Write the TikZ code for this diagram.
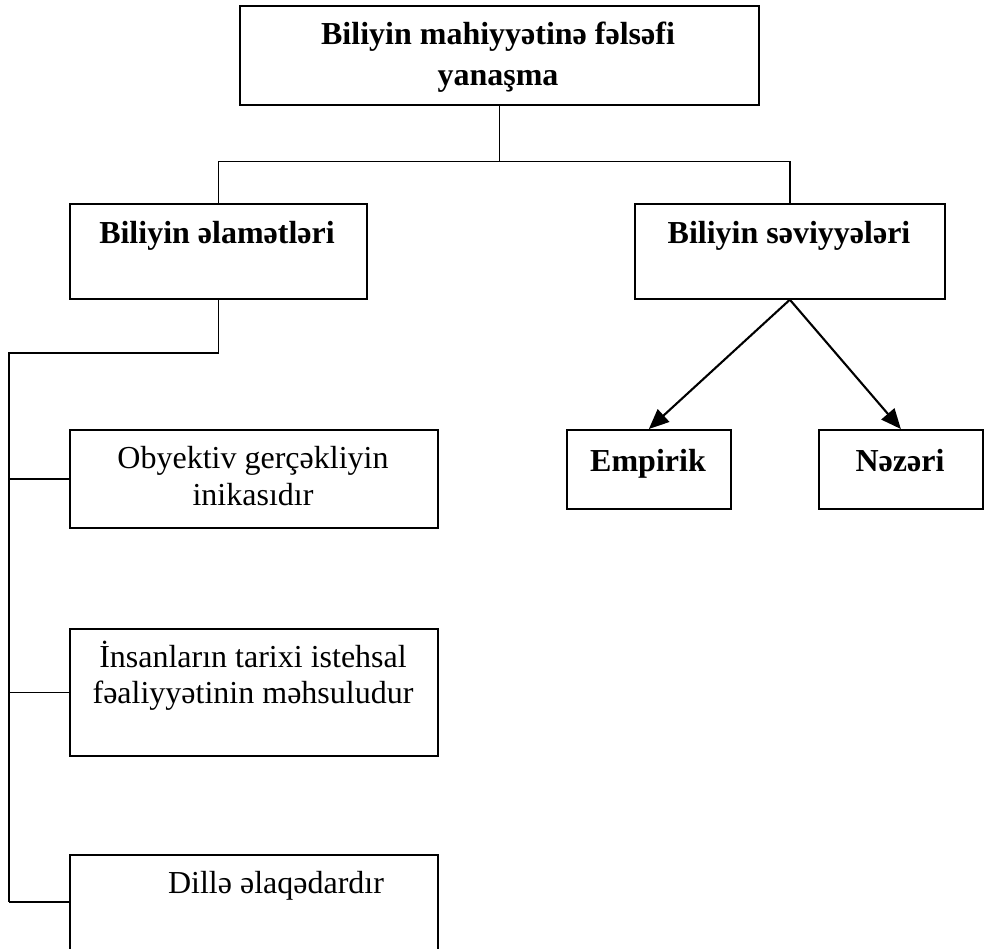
\documentclass[tikz,border=0pt]{standalone}
\usepackage{fontspec}
\setmainfont{Liberation Serif}
\usetikzlibrary{arrows.meta}
\begin{document}
\begin{tikzpicture}[x=1pt,y=-1pt,
  box/.style={draw,line width=1.7pt,inner sep=0pt,anchor=north west},
  lbl/.style={font=\fontsize{32}{41}\selectfont, anchor=base, inner sep=0pt},
  blbl/.style={font=\fontsize{32}{41}\selectfont\bfseries, anchor=base, inner sep=0pt},
  conn/.style={line width=1.6pt},
  arr/.style={line width=2.1pt,-{Triangle[length=20pt,width=17pt]}}]
\useasboundingbox (0,0) rectangle (984,949);
% boxes
\node[box,minimum width=519pt,minimum height=99pt] (top) at (239,5) {};
\node[box,minimum width=297pt,minimum height=95pt] (alam) at (69,203) {};
\node[box,minimum width=310pt,minimum height=95pt] (sev) at (634,203) {};
\node[box,minimum width=164pt,minimum height=79pt] (emp) at (566,429) {};
\node[box,minimum width=164pt,minimum height=79pt] (naz) at (818,429) {};
\node[box,minimum width=368pt,minimum height=98pt] (b1) at (69,429) {};
\node[box,minimum width=368pt,minimum height=127pt] (b2) at (69,628) {};
\node[box,minimum width=368pt,minimum height=130pt] (b3) at (69,854) {};
% texts
\node[blbl] (t1a) at (498,45) {Biliyin mahiyyətinə fəlsəfi};
\node[blbl] (t1b) at (498,86) {yanaşma};
\node[blbl] (t2) at (217,244) {Biliyin əlamətləri};
\node[blbl] (t3) at (789,244) {Biliyin səviyyələri};
\node[blbl] (t4) at (648,471) {Empirik};
\node[blbl] (t5) at (900,471) {Nəzəri};
\node[lbl] (t6a) at (253,468) {Obyektiv gerçəkliyin};
\node[lbl] (t6b) at (253,505) {inikasıdır};
\node[lbl] (t7a) at (253,667) {İnsanların tarixi istehsal};
\node[lbl] (t7b) at (253,703) {fəaliyyətinin məhsuludur};
\node[lbl] (t8) at (276,893) {Dillə əlaqədardır};
% connectors
\path (top.south) ++(0,56) coordinate (hub);
\coordinate (spinetop) at (9,353);
\coordinate (spinebot) at (9,902);
\draw[conn] (top.south) -- (hub);
\draw[conn] (alam.north) |- (hub) -| (sev.north);
\draw[conn] (alam.south) |- (spinetop) -- (spinebot);
\draw[conn] (spinetop |- b1.west) -- (b1.west);
\draw[conn] (spinetop |- b2.west) -- (b2.west);
\draw[conn] (spinebot) -- (spinebot -| b3.west);
\draw[arr] (sev.south) -- (emp.north);
\draw[arr] (sev.south) -- (naz.north);
\end{tikzpicture}
\end{document}
